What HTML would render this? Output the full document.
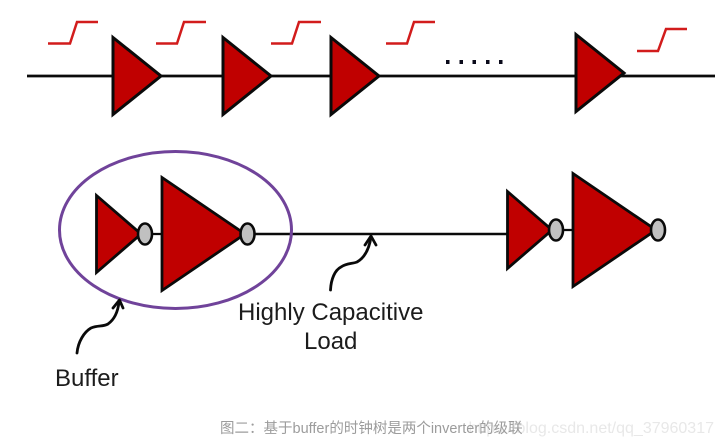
<!DOCTYPE html>
<html>
<head>
<meta charset="utf-8">
<style>
html,body{margin:0;padding:0;background:#fff;}
body{width:724px;height:445px;overflow:hidden;position:relative;}
svg{position:absolute;left:0;top:0;display:block;}
</style>
</head>
<body>
<svg width="724" height="445" viewBox="0 0 724 445" xmlns="http://www.w3.org/2000/svg">
<!-- top wire -->
<line x1="27" y1="76" x2="715" y2="76" stroke="#0a0a0a" stroke-width="2.7"/>
<!-- top triangles -->
<g fill="#c00000" stroke="#0a0a0a" stroke-width="3" stroke-linejoin="miter">
<polygon points="113,37.500 161,76 113,114.500"/>
<polygon points="223,37.500 271,76 223,114.500"/>
<polygon points="331,37.500 379,76 331,114.500"/>
<polygon points="576,34.500 624,73 576,111.500"/>
</g>
<!-- steps -->
<g fill="none" stroke="#d21c1c" stroke-width="2.5">
<path d="M48,43.500H70L77,22H98"/>
<path d="M156,43.500H177L184,22H206"/>
<path d="M271,43.500H292L299,22H321"/>
<path d="M386,43.500H407L414,22H435"/>
<path d="M637,51H658L666,29H687"/>
</g>
<!-- dots -->
<g fill="#0a0a1a">
<rect x="446" y="60" width="3.500" height="4"/>
<rect x="459.500" y="60" width="3.500" height="4"/>
<rect x="472.500" y="60" width="3.500" height="4"/>
<rect x="486" y="60" width="3.500" height="4"/>
<rect x="499" y="60" width="3.500" height="4"/>
</g>
<!-- bottom wires -->
<line x1="145" y1="234" x2="164" y2="234" stroke="#0a0a0a" stroke-width="2.3"/>
<line x1="248" y1="234" x2="510" y2="234" stroke="#0a0a0a" stroke-width="2.6"/>
<line x1="555" y1="230" x2="575" y2="230" stroke="#0a0a0a" stroke-width="2.3"/>
<!-- ellipse -->
<ellipse cx="175.500" cy="230" rx="116" ry="78.500" fill="none" stroke="#70439a" stroke-width="3"/>
<!-- bottom inverters -->
<g fill="#c00000" stroke="#0a0a0a" stroke-width="2.8">
<polygon points="96.500,195.500 141,234 96.500,272.500"/>
<polygon points="162,177.500 245,234 162,290.500"/>
<polygon points="507.500,191.500 552,230 507.500,268.500"/>
<polygon points="573,173.500 656,230 573,286.500"/>
</g>
<g fill="#c0c0c0" stroke="#0a0a0a" stroke-width="2.6">
<ellipse cx="145" cy="234" rx="7" ry="10.500"/>
<ellipse cx="247.500" cy="234" rx="7" ry="10.500"/>
<ellipse cx="556" cy="230" rx="7" ry="10.500"/>
<ellipse cx="658" cy="230" rx="7" ry="10.500"/>
</g>
<!-- curved arrows -->
<g fill="none" stroke="#0a0a0a" stroke-width="2.8" stroke-linecap="round" stroke-linejoin="round">
<path d="M330.500,290C331,279 335,270 341,267C347,263 352,264 357,262C364,258 369,250 371,237"/>
<path d="M365,245L371,236L376,245"/>
<path d="M77,353C78,342 84,332 91,328C98,325 103,327 108,324C115,319 118,311 119,302"/>
<path d="M113,308L119.500,300L123,308"/>
</g>
<!-- labels -->
<g font-family="'Liberation Sans',sans-serif" fill="#1c1c1c" font-size="24">
<text x="238" y="320">Highly Capacitive</text>
<text x="304" y="349">Load</text>
<text x="55" y="386">Buffer</text>
</g>
<!-- caption -->
<text x="714" y="433" text-anchor="end" font-family="'Liberation Sans',sans-serif" font-size="16" fill="#e8e8e8">https://blog.csdn.net/qq_37960317</text>
<text x="220" y="433" font-family="'Liberation Sans','Noto Sans CJK SC',sans-serif" font-size="14.500" fill="#9c9c9c">图二：基于buffer的时钟树是两个inverter的级联</text>
</svg>
</body>
</html>
